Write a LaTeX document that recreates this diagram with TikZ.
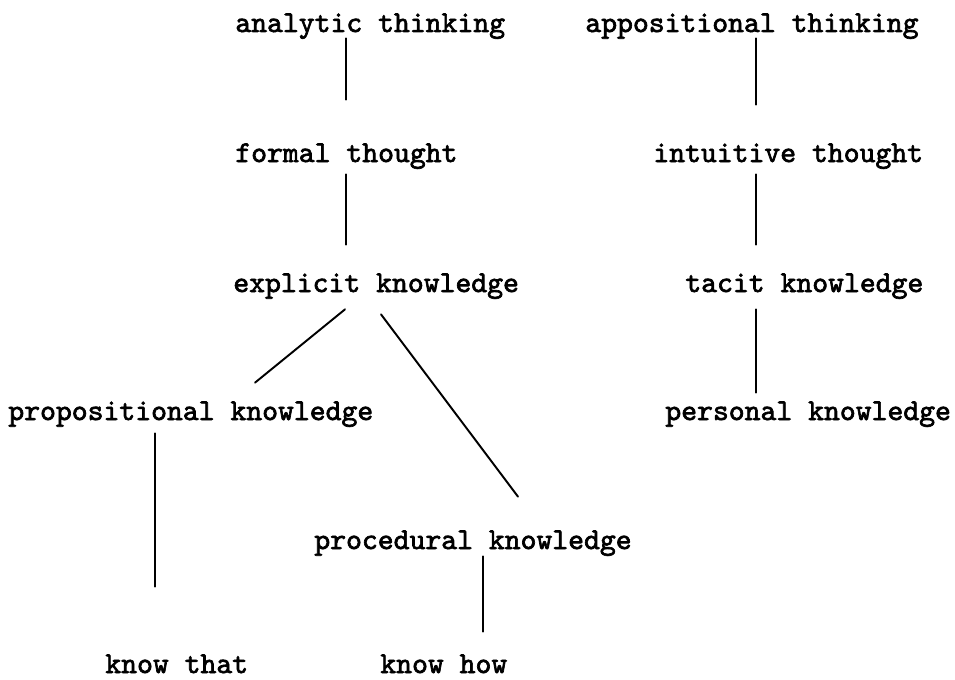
\documentclass[tikz,border=0pt]{standalone}
\usepackage{fontspec}
\newfontfamily\typewriter{lmmono10-regular.otf}[FakeBold=2.2]
\usetikzlibrary{calc}
\begin{document}
\begin{tikzpicture}[x=0.02cm, y=-0.02cm,
  term/.style={anchor=base west, inner sep=0pt, text height=0.36cm, text depth=0.14cm,
    font=\typewriter\fontsize{17.2}{20}\selectfont},
  link/.style={line width=1.1pt, line cap=round}]
\useasboundingbox (0,0) rectangle (955,679);

% left column: analytic side
\node[term] (an)  at (235,32)  {analytic thinking};
\node[term] (fo)  at (235,162) {formal thought};
\node[term] (ex)  at (233,292) {explicit knowledge};
\node[term] (pr)  at (8,420)   {propositional knowledge};
\node[term] (pc)  at (314,549) {procedural knowledge};
\node[term] (kt)  at (105,673) {know that};
\node[term] (kh)  at (380,673) {know how};

% right column: appositional side
\node[term] (ap)  at (585,32)  {appositional thinking};
\node[term] (in)  at (653,162) {intuitive thought};
\node[term] (ta)  at (685,292) {tacit knowledge};
\node[term] (pe)  at (665,420) {personal knowledge};

% connectors
\draw[link] ($(an.south west)+(111,-1)$)  -- ($(fo.north west)+(111,-44)$);
\draw[link] ($(fo.south west)+(111,5)$)   -- ($(ex.north west)+(113,-29)$);
\draw[link] ($(ex.south west)+(112,10)$)  -- ($(pr.north west)+(247,-19)$);
\draw[link] ($(ex.south west)+(148,15)$)  -- ($(pc.north west)+(204,-34)$);
\draw[link] ($(pr.south west)+(147,6)$)   -- ($(kt.north west)+(50,-68)$);
\draw[link] ($(pc.south west)+(169,0)$)   -- ($(kh.north west)+(103,-23)$);

\draw[link] ($(ap.south west)+(171,-1)$)  -- ($(in.north west)+(103,-39)$);
\draw[link] ($(in.south west)+(103,5)$)   -- ($(ta.north west)+(71,-29)$);
\draw[link] ($(ta.south west)+(71,10)$)   -- ($(pe.north west)+(91,-9)$);
\end{tikzpicture}
\end{document}
